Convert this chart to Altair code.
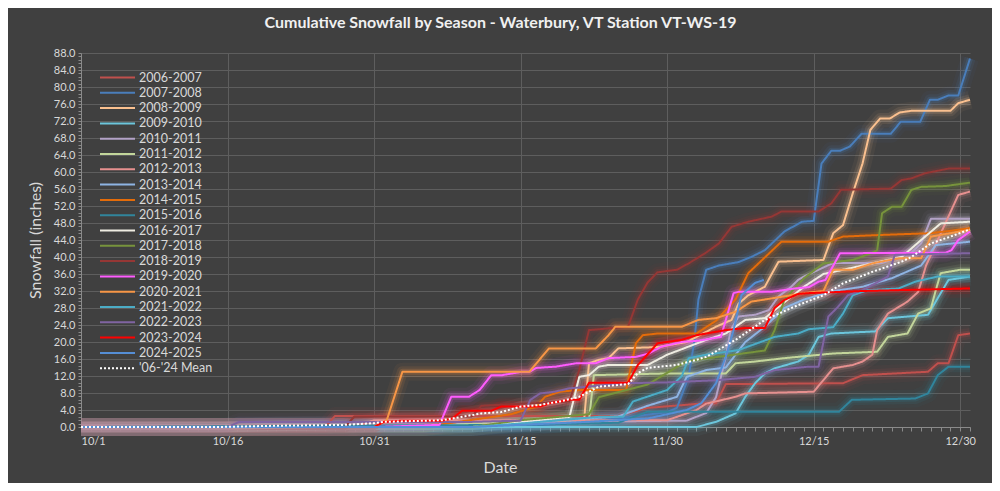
import altair as alt
import pandas as pd

# ---------------- data (day index from 10/1 = 0, cumulative inches) ----------------
seasons = ["2006-2007", "2007-2008", "2008-2009", "2009-2010", "2010-2011",
           "2011-2012", "2012-2013", "2013-2014", "2014-2015", "2015-2016",
           "2016-2017", "2017-2018", "2018-2019", "2019-2020", "2020-2021",
           "2021-2022", "2022-2023", "2023-2024", "2024-2025", "'06-'24 Mean"]

colors = ["#c0504d", "#4a7ebb", "#fac08f", "#6cc6dc", "#b3a2c7",
          "#c3d69b", "#e6908f", "#8eb4e3", "#e46c0a", "#31859c",
          "#eeece1", "#77933c", "#953735", "#ff5cff", "#f79646",
          "#4bacc6", "#8064a2", "#ff0000", "#558ed5", "#ffffff"]

s_2006_2007 = [(0, 0), (25, 0), (26, 2.6), (55, 2.6), (58, 4.5), (64, 5.6), (65, 5.6), (66, 10.1),
               (78, 10.3), (80, 12.2), (86.7, 13), (87.7, 15), (88.8, 15), (89.8, 21.6), (91, 22)]
s_2007_2008 = [(0, 0), (45, 0), (55, 2), (60, 3.5), (61, 4.5), (62.2, 11.8), (62.8, 20.5), (63.2, 30),
               (64, 37), (65.3, 38), (67.3, 38.8), (68.6, 40), (70, 41.6), (72, 46), (73.8, 48.3),
               (75, 48.5), (75.8, 62), (76.8, 65), (77.7, 65), (78.7, 66), (79.9, 69), (82.9, 69),
               (83.9, 71.8), (85.9, 71.8), (86.9, 77), (87.7, 77), (88.8, 78), (89.8, 78), (91, 86.7)]
s_2008_2009 = [(0, 0), (35, 0), (45, 1), (51.5, 1.6), (52, 15), (53, 15.8), (54, 16.2), (55, 18.5),
               (59, 18.8), (62, 20), (65, 23.6), (66.6, 25.2), (67.3, 29), (68.3, 31), (70, 33),
               (70.7, 36), (71.4, 38.9), (76, 39.3), (77, 45.6), (78, 47.5), (79, 55), (80, 62),
               (80.8, 69.9), (81.8, 72.6), (82.8, 72.6), (83.8, 74), (85, 74.4), (89, 74.4),
               (89.8, 76.2), (91, 77)]
s_2009_2010 = [(0, 0), (63, 0), (65, 1.2), (67, 3.2), (68, 7.1), (69, 10.3), (70, 12.6), (71, 13.8),
               (73.4, 15.4), (74.5, 17), (75.5, 21.2), (76.8, 22), (81.3, 22.5), (82.6, 25.6),
               (86.7, 26.4), (88, 31.5), (88.8, 34.6), (91, 35.4)]
s_2010_2011 = [(0, 0), (35, 0), (40, 1), (62, 1.5), (64, 3.3), (65, 7), (66, 16.5), (66.5, 22.8),
               (67.3, 26), (69, 26.4), (70.4, 27.5), (71.4, 30.7), (72.7, 33), (73.4, 34.6),
               (74, 35.4), (75.5, 37), (77, 38.6), (82, 38.6), (85, 41), (86, 43.2), (87, 49), (91, 49)]
s_2011_2012 = [(0, 0), (35, 0), (45, 1.6), (52, 1.6), (52.5, 12.2), (60, 12.6), (66, 12.6), (67, 15),
               (69, 15.4), (72, 16.2), (77, 17.3), (81.5, 17.7), (82.6, 21.2), (84.6, 22), (85.7, 26.7),
               (87, 27.9), (87.5, 32.2), (88, 36.2), (90, 37), (91, 37)]
s_2012_2013 = [(0, 0), (28, 0), (30, 1.6), (60, 1.6), (63, 4), (64, 5.5), (67, 7.1), (68, 7.9),
               (75, 8.3), (77, 13.8), (79, 14.6), (80, 15.4), (81, 17), (81.5, 22.8), (82.6, 26.7),
               (84.6, 29.5), (85.7, 31.8), (86.5, 38), (87.7, 44), (89.8, 54.6), (91, 55.4)]
s_2013_2014 = [(0, 0), (40, 0), (48, 1.5), (55, 2.5), (58, 5), (61, 7.1), (62, 11.8), (64, 13.4),
               (66, 14), (68, 20), (70, 23.6), (72, 28), (74, 30), (77, 32), (80, 33), (83, 35),
               (86, 38), (87.5, 42.8), (91, 43.6)]
s_2014_2015 = [(0, 0), (35, 0), (44, 3), (46.6, 4.8), (47.5, 7.1), (49, 8.3), (51, 8.7), (55.8, 8.7),
               (56.8, 19.7), (57.5, 21.6), (59, 22), (63, 22), (65, 25), (67, 30), (68.3, 36.2),
               (71.7, 43.6), (76.5, 43.6), (78, 44.8), (82, 45.2), (87, 45.6), (89.8, 46.4), (91, 46.8)]
s_2015_2016 = [(0, 0), (45, 0.5), (55, 1), (58, 3.6), (77.6, 3.6), (78.9, 6.4), (85.4, 6.7),
               (86.7, 7.9), (87.7, 12.2), (88.8, 14.2), (91, 14.2)]
s_2016_2017 = [(0, 0), (40, 0), (50, 2.4), (51, 11.8), (52, 12.2), (53, 14.2), (54, 14.6), (58, 14.6),
               (60, 17), (64, 20.5), (66, 22), (68, 25.2), (70, 25.6), (71, 27.5), (74, 33), (76, 36),
               (80, 38), (84, 40), (86, 44), (88, 47.9), (91, 48.3)]
s_2017_2018 = [(0, 0), (40, 0), (45, 1.6), (52, 3), (53, 7), (58, 10), (62, 15.5), (70, 18),
               (71, 22.8), (72, 30), (74, 35), (76, 38.5), (79, 39.3), (81, 41), (81.5, 41.6),
               (82, 50.3), (83, 51.8), (84, 51.8), (85, 55.8), (86, 56.5), (88.5, 56.7), (91, 57.5)]
s_2018_2019 = [(0, 0), (27, 0), (28, 2.5), (40, 2.5), (41, 5), (50, 6), (51, 13.4), (52, 22.8),
               (56, 23.6), (57, 30), (58, 34), (59, 36.4), (61, 37), (62.2, 38.5), (63.9, 40.9),
               (65.3, 43.2), (66.6, 47.1), (68.3, 48.3), (70.7, 49.5), (71.7, 50.7), (75.5, 50.7),
               (76.8, 52.6), (77.8, 55.8), (82.9, 56.1), (84, 58.1), (85, 58.5), (86.4, 59.7),
               (88.8, 60.8), (91, 60.8)]
s_2019_2020 = [(0, 0), (30, 0), (36.7, 0.5), (37.9, 7.1), (39.7, 7.1), (40.8, 8.7), (42, 12.2),
               (43.1, 12.2), (45.1, 13), (45.9, 13), (46.6, 13.9), (48.6, 14.2), (50.7, 15),
               (52.7, 15), (54, 16.2), (56.8, 16.5), (58.1, 17.3), (59.4, 18.9), (61.5, 20),
               (63.2, 20.3), (65.5, 21.2), (66.8, 31.5), (67.3, 31.8), (70.7, 31.8), (73.1, 32.6),
               (74.5, 32.9), (75.5, 34.2), (76.2, 34.6), (77.7, 40.9), (78.9, 40.9), (88.5, 41),
               (89.1, 41.6), (89.8, 44), (91, 46)]
s_2020_2021 = [(0, 0), (30, 0), (31.3, 1.6), (32.9, 13), (45.9, 13), (47.9, 18.5), (52.7, 18.5),
               (54, 21.6), (54.7, 23.6), (61.5, 23.6), (63.2, 25.2), (65, 25.6), (67, 27.1),
               (68.6, 29.5), (70, 30), (74, 31.5), (76, 32), (77, 37), (79, 37), (81, 38.5),
               (83.7, 39.7), (86, 39.7), (87, 44.8), (91, 46.4)]
s_2021_2022 = [(0, 0), (40, 0), (46, 1), (53, 2.4), (55.5, 2.4), (56.5, 6), (60, 8.7), (61.5, 12),
               (62.2, 16.2), (64, 17), (67.3, 18.1), (71, 21.2), (73.4, 22), (74.5, 23), (77, 23.5),
               (78, 26.7), (79, 31), (80.5, 32.2), (83.7, 32.6), (85.4, 34.2), (87.7, 35.4), (91, 35.4)]
s_2022_2023 = [(0, 0), (15, 0), (16.2, 1.2), (40, 1.2), (45, 1.5), (45.5, 4), (46, 6.4), (47, 7.9),
               (48.5, 8.3), (50, 9.1), (55.8, 10.3), (60, 10.5), (65, 11), (69, 11.8), (71, 13.4),
               (74.5, 14.2), (75.5, 14.2), (76.5, 26), (77.5, 28.3), (78.5, 31), (80, 32.2),
               (82.6, 35.4), (83.3, 40.5), (91, 40.9)]
s_2023_2024 = [(0, 0), (30, 0), (31, 1.2), (33, 1.5), (37, 1.5), (38, 2), (39, 3.8), (42, 3.8),
               (43, 4.8), (47, 4.8), (48, 5.6), (50, 6.4), (51, 6.4), (52, 10.4), (56, 10.4),
               (57, 14.6), (57.5, 15.8), (59, 19.7), (61.5, 20.5), (63, 21.6), (66, 22.8), (68, 23.3),
               (70, 23.3), (71, 28), (72, 29.9), (73.4, 31.3), (74.5, 31.5), (80, 32), (91, 32.6)]
s_2024_2025 = [(0, 0), (40, 0), (50, 1), (58, 2), (62, 4), (63.5, 5.6), (65, 10.3), (66, 16.5),
               (66.8, 22.8), (67.3, 28), (67.6, 31), (69, 33.9), (69.9, 34.6)]
s_mean = [(0, 0), (14, 0), (20, 0.3), (27, 0.5), (30, 0.9), (31, 1.2), (37, 1.6), (41, 3.2),
          (43, 3.5), (45, 4.8), (47, 5.2), (49, 6), (51, 7.1), (52, 8.3), (53, 9.5), (56, 10.1),
          (57, 12.7), (58, 13.9), (61, 14.6), (63, 15.8), (64, 16.5), (67, 20.5), (70, 25.2),
          (73, 28.3), (76, 31), (78, 33.8), (81, 36.5), (84, 38.9), (85, 40), (87, 43.2),
          (89, 44.8), (91, 46.5)]

series = [s_2006_2007, s_2007_2008, s_2008_2009, s_2009_2010, s_2010_2011, s_2011_2012,
          s_2012_2013, s_2013_2014, s_2014_2015, s_2015_2016, s_2016_2017, s_2017_2018,
          s_2018_2019, s_2019_2020, s_2020_2021, s_2021_2022, s_2022_2023, s_2023_2024,
          s_2024_2025, s_mean]

x_tick_labels = ["10/1", "10/16", "10/31", "11/15", "11/30", "12/15", "12/30"]

rows = []
for name, pts in zip(seasons, series):
    for d, v in pts:
        rows.append({"season": name, "day": d, "snow": v})
df = pd.DataFrame(rows)

# ---------------- chart ----------------
label_array = "[" + ",".join("'" + t + "'" for t in x_tick_labels) + "]"
x_label_expr = f"datum.value % 15 === 0 ? {label_array}[datum.value / 15] : ''"
is_major_y = "abs(datum.value / 4 - round(datum.value / 4)) < 0.01"

x_axis = alt.Axis(
    values=list(range(0, 92)), labelExpr=x_label_expr, tickSize=4, labelPadding=4,
    gridOpacity={"condition": {"test": "datum.value % 15 === 0", "value": 1}, "value": 0},
    title="Date", titleX=419, titleY=40, titleBaseline="middle", titleAlign="center",
    labelFontSize=11, titleFontSize=16,
)
y_axis = alt.Axis(
    values=[round(i * 0.8, 1) for i in range(111)],
    labelExpr=f"{is_major_y} ? format(datum.value, '.1f') : ''",
    gridOpacity={"condition": {"test": is_major_y, "value": 1}, "value": 0},
    tickSize=3, labelPadding=3,
    title="Snowfall (inches)", titleX=-46, titleY=187, titleAngle=-90,
    titleBaseline="middle", titleAlign="center", labelFontSize=11, titleFontSize=16,
)

x_enc = alt.X("day:Q", scale=alt.Scale(domain=[0, 91], nice=False, zero=False), axis=x_axis)
y_enc = alt.Y("snow:Q", scale=alt.Scale(domain=[0, 88], nice=False), axis=y_axis)

legend = alt.Legend(
    title=None, orient="top-left", offset=18, symbolType="stroke",
    symbolSize=1225, clipHeight=13, rowPadding=2.3, labelFont="Lato",
    labelFontSize=12.5, labelColor="#d9d9d9", labelOffset=3,
)

color_scale = alt.Scale(domain=seasons, range=colors)


def glow(width, opacity):
    return alt.Chart(df).mark_line(
        strokeWidth=width, opacity=opacity, strokeCap="butt", strokeJoin="round"
    ).encode(
        x=x_enc, y=y_enc,
        color=alt.Color("season:N", scale=color_scale, legend=None),
        detail="season:N",
    )


glow_soft = glow(18, 0.05)
glow_wide = glow(11, 0.10)
glow_mid = glow(6, 0.18)

dash_range = [[1, 0]] * 19 + [[2, 2]]
width_range = [2] * 17 + [3, 2, 2.5]

lines = alt.Chart(df).mark_line(strokeJoin="round").encode(
    x=x_enc, y=y_enc,
    color=alt.Color("season:N", scale=color_scale, legend=legend),
    strokeDash=alt.StrokeDash("season:N", scale=alt.Scale(domain=seasons, range=dash_range), legend=legend),
    strokeWidth=alt.StrokeWidth("season:N", scale=alt.Scale(domain=seasons, range=width_range), legend=legend),
)

chart = alt.layer(glow_soft, glow_wide, glow_mid, lines).resolve_scale(
    color="independent", strokeDash="independent", strokeWidth="independent"
).properties(
    width=889, height=374,
    autosize=alt.AutoSizeParams(type="none"),
    padding={"left": 73, "top": 45, "right": 22, "bottom": 56},
    background="#404040",
    title=alt.TitleParams(
        "Cumulative Snowfall by Season - Waterbury, VT Station VT-WS-19",
        font="Lato", fontSize=16, fontWeight="bold", color="#f0f0f0",
        anchor="middle", offset=16, dx=-25,
    ),
).configure_view(stroke=None).configure_axis(
    gridColor="#5e5e5e", gridWidth=1, domainColor="#8a8a8a", tickColor="#8a8a8a",
    labelColor="#d9d9d9", titleColor="#d9d9d9", labelFont="Lato", titleFont="Lato",
    titleFontWeight="normal",
)

chart.save("out.html", embed_options={"renderer": "svg", "actions": False})
